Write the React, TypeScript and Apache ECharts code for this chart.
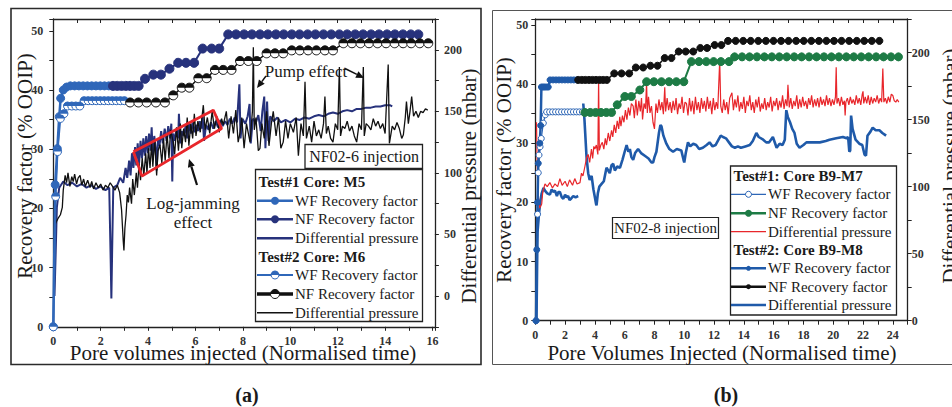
import { useEffect, useRef } from "react";
import * as echarts from "echarts";

const SERIF = "'Liberation Serif', 'DejaVu Serif', serif";

// ---------- Panel (a): NF02-6 injection, Test#1 core M5 / Test#2 core M6 ----------
// x = pore volumes injected, recovery in % OOIP, pressure in mbar
const m5WfRecovery: [number, number][] = [
  [0, 0], [0.08, 24], [0.17, 30.1], [0.25, 35.5], [0.31, 38.6], [0.42, 40.0], [0.56, 40.5],
  [0.72, 40.7], [0.9, 40.7], [1.08, 40.7], [1.26, 40.7], [1.44, 40.7], [1.62, 40.7], [1.8, 40.7],
  [1.98, 40.7], [2.16, 40.7], [2.34, 40.7],
];
const m5NfRecovery: [number, number][] = [
  [2.52, 40.7], [2.7, 40.7], [2.88, 40.7], [3.06, 40.7], [3.24, 40.7], [3.42, 40.7], [3.6, 40.7],
  [3.87, 41.9], [4.22, 42.6], [4.54, 42.6], [4.9, 43.6], [5.27, 44.6], [5.6, 44.6], [5.94, 44.6],
  [6.3, 47.0], [6.68, 47.0], [7.0, 47.0], [7.38, 49.4], [7.71, 49.4], [8.05, 49.4], [8.38, 49.4],
  [8.72, 49.4], [9.05, 49.4], [9.39, 49.4], [9.72, 49.4], [10.06, 49.4], [10.39, 49.4], [10.73, 49.4],
  [11.06, 49.4], [11.4, 49.4], [11.73, 49.4], [12.07, 49.4], [12.4, 49.4], [12.74, 49.4], [13.07, 49.4],
  [13.41, 49.4], [13.74, 49.4], [14.08, 49.4], [14.41, 49.4], [14.75, 49.4], [15.08, 49.4], [15.4, 49.4],
];
const m5Pressure: [number, number][] = [
  [0.05, 0], [0.1, 35], [0.15, 72], [0.25, 88], [0.42, 93], [0.6, 90], [0.8, 92], [1.0, 89], [1.2, 91],
  [1.4, 88], [1.6, 90], [1.8, 87], [2.0, 89], [2.2, 86], [2.36, 88], [2.42, 30], [2.45, -2], [2.49, 45],
  [2.53, 88], [2.7, 90], [2.82, 96], [2.95, 92], [3.05, 104], [3.12, 96], [3.2, 110], [3.26, 98],
  [3.32, 116], [3.38, 104], [3.45, 121], [3.5, 106], [3.56, 124], [3.62, 108], [3.68, 126], [3.74, 112],
  [3.8, 128], [3.86, 114], [3.92, 130], [3.98, 116], [4.04, 132], [4.1, 118], [4.15, 137], [4.2, 112],
  [4.26, 130], [4.32, 120], [4.36, 102], [4.42, 128], [4.48, 122], [4.55, 134], [4.62, 124], [4.7, 136],
  [4.78, 126], [4.85, 138], [4.92, 128], [4.98, 140], [5.02, 93], [5.06, 132], [5.12, 126], [5.2, 136],
  [5.27, 128], [5.3, 148], [5.36, 124], [5.42, 134], [5.5, 130], [5.58, 138], [5.65, 128], [5.72, 140],
  [5.8, 132], [5.88, 141], [5.95, 133], [6.02, 139], [6.1, 134], [6.18, 142], [6.25, 136], [6.3, 146],
  [6.36, 126], [6.45, 139], [6.55, 135], [6.65, 141], [6.75, 136], [6.85, 142], [6.95, 137], [7.05, 143],
  [7.15, 138], [7.25, 142], [7.35, 139], [7.45, 144], [7.55, 140], [7.65, 145], [7.75, 141], [7.85, 172],
  [7.9, 128], [7.98, 144], [8.1, 140], [8.2, 146], [8.28, 156], [8.33, 124], [8.42, 144], [8.55, 141],
  [8.65, 147], [8.75, 134], [8.82, 150], [8.9, 162], [8.95, 120], [9.02, 158], [9.08, 126], [9.15, 146],
  [9.3, 142], [9.45, 145], [9.6, 141], [9.8, 143], [10.0, 141], [10.2, 144], [10.4, 143], [10.6, 145],
  [10.8, 144], [11.0, 146], [11.2, 147], [11.4, 146], [11.6, 148], [11.8, 149], [12.0, 148], [12.2, 150],
  [12.4, 151], [12.6, 150], [12.8, 152], [13.0, 152], [13.2, 153], [13.4, 153], [13.6, 154], [13.8, 154],
  [14.0, 155], [14.2, 155], [14.3, 154],
];
const m6WfRecovery: [number, number][] = [
  [0, 0], [0.1, 22], [0.18, 29.6], [0.3, 35.2], [0.45, 36.0], [0.6, 37.3], [0.78, 37.3], [0.95, 37.3],
  [1.12, 37.3], [1.3, 38.2], [1.47, 38.2], [1.64, 38.2], [1.81, 38.2], [1.98, 38.2], [2.15, 38.2],
  [2.32, 38.2], [2.49, 38.2], [2.66, 38.2], [2.83, 38.2], [3.0, 38.2],
];
const m6NfRecovery: [number, number][] = [
  [3.24, 37.9], [3.59, 37.9], [3.94, 37.9], [4.33, 37.9], [4.71, 37.9], [5.06, 39.1], [5.42, 40.4],
  [5.74, 40.4], [6.12, 42.0], [6.47, 42.0], [6.82, 43.4], [7.17, 43.4], [7.52, 43.4], [7.88, 44.9],
  [8.23, 44.9], [8.58, 44.9], [9.0, 46.2], [9.35, 46.2], [9.7, 46.2], [10.06, 46.7], [10.4, 46.7],
  [10.75, 46.7], [11.1, 46.7], [11.46, 46.7], [11.8, 46.7], [12.24, 47.9], [12.6, 47.9], [12.96, 47.9],
  [13.32, 47.9], [13.68, 47.9], [14.04, 47.9], [14.4, 47.9], [14.76, 47.9], [15.1, 47.9], [15.46, 47.9],
  [15.82, 47.9],
];
const m6Pressure: [number, number][] = [
  [0.05, 57], [0.12, 60], [0.2, 63], [0.3, 66], [0.38, 72], [0.42, 86], [0.5, 98], [0.56, 92], [0.62, 100],
  [0.7, 89], [0.78, 97], [0.84, 93], [0.9, 99], [0.98, 91], [1.05, 96], [1.13, 98], [1.2, 90], [1.28, 95],
  [1.35, 89], [1.45, 94], [1.55, 88], [1.62, 93], [1.7, 87], [1.8, 92], [1.9, 88], [2.0, 91], [2.1, 86],
  [2.2, 90], [2.3, 88], [2.4, 92], [2.5, 89], [2.6, 86], [2.7, 90], [2.8, 84], [2.88, 70], [2.95, 45],
  [2.98, 37], [3.02, 55], [3.07, 66], [3.12, 82], [3.17, 76], [3.22, 88], [3.3, 75], [3.35, 95], [3.42, 82],
  [3.5, 100], [3.55, 88], [3.62, 108], [3.68, 94], [3.75, 112], [3.82, 98], [3.9, 116], [3.95, 100],
  [4.02, 120], [4.08, 104], [4.15, 124], [4.2, 105], [4.28, 127], [4.36, 98], [4.42, 118], [4.5, 123],
  [4.58, 108], [4.65, 128], [4.72, 110], [4.8, 132], [4.88, 112], [4.95, 135], [5.06, 125], [5.12, 115],
  [5.2, 137], [5.28, 118], [5.36, 140], [5.42, 120], [5.5, 136], [5.58, 125], [5.65, 145], [5.72, 122],
  [5.8, 140], [5.88, 128], [5.95, 148], [6.02, 130], [6.1, 142], [6.2, 133], [6.33, 155], [6.4, 135],
  [6.5, 145], [6.6, 132], [6.7, 150], [6.8, 136], [6.9, 146], [7.0, 133], [7.1, 144], [7.17, 139],
  [7.3, 150], [7.4, 128], [7.5, 146], [7.6, 132], [7.7, 151], [7.8, 125], [7.88, 133], [7.95, 145],
  [8.05, 120], [8.15, 140], [8.3, 125], [8.4, 150], [8.44, 202], [8.48, 135], [8.55, 145], [8.65, 118],
  [8.72, 120], [8.8, 140], [8.9, 128], [9.0, 150], [9.1, 122], [9.2, 140], [9.28, 150], [9.4, 130],
  [9.5, 145], [9.6, 120], [9.7, 125], [9.8, 142], [9.9, 128], [10.0, 140], [10.13, 133], [10.25, 145],
  [10.34, 114], [10.45, 140], [10.55, 130], [10.62, 174], [10.68, 128], [10.8, 138], [10.9, 125],
  [11.0, 142], [11.1, 130], [11.2, 135], [11.3, 128], [11.4, 140], [11.46, 162], [11.52, 132], [11.6, 138],
  [11.7, 128], [11.8, 125], [11.9, 140], [12.0, 135], [12.07, 186], [12.12, 130], [12.2, 138], [12.3, 136],
  [12.4, 142], [12.5, 134], [12.6, 138], [12.7, 130], [12.8, 125], [12.9, 140], [13.0, 135], [13.08, 186],
  [13.12, 130], [13.2, 140], [13.3, 138], [13.4, 135], [13.5, 144], [13.6, 138], [13.7, 142], [13.8, 136],
  [13.9, 140], [14.0, 132], [14.13, 188], [14.18, 124], [14.3, 138], [14.4, 135], [14.5, 141], [14.6, 136],
  [14.7, 128], [14.77, 131], [14.85, 145], [14.9, 158], [14.98, 140], [15.05, 150], [15.12, 162],
  [15.2, 146], [15.3, 150], [15.4, 145], [15.5, 150], [15.6, 149], [15.7, 152], [15.8, 151],
];
// corners of the outlined log-jamming zone (PV, % OOIP)
const logJamZone: [number, number][] = [
  [3.38, 29.56], [6.75, 36.6], [7.1, 33.5], [3.74, 25.46], [3.38, 29.56],
];

// ---------- Panel (b): NF02-8 injection, Test#1 core B9-M7 / Test#2 core B9-M8 ----------
const m7WfRecovery: [number, number][] = [
  [0.05, 0], [0.15, 18], [0.2, 25], [0.25, 28], [0.32, 29.4], [0.4, 30.8], [0.54, 33.4], [0.67, 34.8],
  [0.76, 35.3], [0.96, 35.3], [1.16, 35.3], [1.36, 35.3], [1.56, 35.3], [1.76, 35.3], [1.96, 35.3],
  [2.16, 35.3], [2.36, 35.3], [2.56, 35.3], [2.76, 35.3], [2.96, 35.3], [3.16, 35.3],
];
const m7NfRecovery: [number, number][] = [
  [3.33, 35.2], [3.69, 35.2], [4.05, 35.2], [4.41, 35.2], [4.77, 35.2], [5.12, 35.2], [5.5, 36.5],
  [6.01, 37.9], [6.45, 37.9], [7.02, 39.0], [7.47, 40.4], [7.96, 40.4], [8.47, 40.4], [8.98, 40.4],
  [9.47, 40.4], [9.97, 40.4], [10.48, 43.8], [10.99, 43.8], [11.48, 43.8], [11.97, 43.8], [12.46, 43.8],
  [13.0, 43.8], [13.38, 44.6], [13.88, 44.6], [14.38, 44.6], [14.88, 44.6], [15.38, 44.6], [15.88, 44.6],
  [16.38, 44.6], [16.88, 44.6], [17.38, 44.6], [17.88, 44.6], [18.38, 44.6], [18.88, 44.6], [19.38, 44.6],
  [19.88, 44.6], [20.38, 44.6], [20.88, 44.6], [21.38, 44.6], [21.88, 44.6], [22.38, 44.6], [22.88, 44.6],
  [23.38, 44.6], [23.88, 44.6], [24.38, 44.6],
];
const m7Pressure: [number, number][] = [
  [0.08, 148], [0.12, 120], [0.18, 95], [0.25, 88], [0.3, 84], [0.43, 87], [0.5, 96], [0.65, 102],
  [0.8, 100], [0.98, 103], [1.15, 99], [1.32, 102], [1.5, 100], [1.65, 106], [1.8, 101], [2.0, 104],
  [2.15, 100], [2.3, 105], [2.5, 101], [2.65, 106], [2.8, 102], [3.0, 103], [3.1, 110], [3.2, 108],
  [3.33, 115], [3.45, 122], [3.55, 124], [3.65, 118], [3.77, 128], [3.85, 121], [3.93, 130], [4.0, 128],
  [4.1, 131], [4.2, 124], [4.25, 180], [4.3, 127], [4.4, 131], [4.5, 133], [4.6, 128], [4.7, 136],
  [4.78, 131], [4.9, 140], [5.0, 134], [5.12, 142], [5.2, 137], [5.3, 146], [5.4, 140], [5.5, 149],
  [5.6, 143], [5.67, 152], [5.75, 145], [5.85, 153], [5.95, 148], [6.05, 157], [6.15, 150], [6.25, 159],
  [6.35, 153], [6.45, 162], [6.57, 160], [6.65, 151], [6.75, 165], [6.85, 153], [6.95, 164], [7.05, 156],
  [7.13, 166], [7.2, 150], [7.3, 162], [7.4, 158], [7.47, 178], [7.52, 155], [7.6, 167], [7.7, 155],
  [7.8, 160], [7.9, 148], [8.0, 143], [8.1, 162], [8.2, 155], [8.3, 165], [8.4, 157], [8.5, 163],
  [8.6, 154], [8.69, 174], [8.75, 156], [8.85, 166], [8.95, 157], [9.05, 163], [9.15, 155], [9.25, 164],
  [9.35, 157], [9.45, 166], [9.55, 154], [9.65, 162], [9.75, 158], [9.85, 167], [9.95, 155], [10.05, 163],
  [10.15, 162], [10.25, 153], [10.35, 166], [10.45, 156], [10.55, 164], [10.65, 154], [10.75, 167],
  [10.85, 157], [10.95, 163], [11.05, 155], [11.15, 166], [11.25, 158], [11.35, 164], [11.45, 156],
  [11.55, 167], [11.65, 158], [11.75, 164], [11.85, 154], [11.95, 166], [12.05, 157], [12.15, 163],
  [12.25, 158], [12.38, 194], [12.45, 160], [12.55, 155], [12.65, 165], [12.75, 157], [12.85, 163],
  [12.95, 154], [13.05, 166], [13.2, 170], [13.3, 157], [13.4, 165], [13.5, 159], [13.6, 168], [13.7, 156],
  [13.8, 163], [13.9, 158], [14.0, 167], [14.1, 155], [14.2, 164], [14.3, 160], [14.4, 168], [14.5, 157],
  [14.6, 163], [14.7, 155], [14.8, 165], [14.9, 159], [15.0, 167], [15.1, 156], [15.2, 162], [15.3, 158],
  [15.4, 166], [15.5, 157], [15.6, 163], [15.7, 159], [15.8, 167], [15.9, 156], [16.0, 164], [16.1, 160],
  [16.2, 166], [16.3, 157], [16.4, 164], [16.5, 159], [16.6, 168], [16.7, 158], [16.8, 165], [16.9, 160],
  [16.96, 176], [17.05, 159], [17.15, 166], [17.25, 158], [17.35, 164], [17.45, 160], [17.55, 168],
  [17.65, 158], [17.75, 165], [17.85, 159], [17.95, 167], [18.05, 160], [18.15, 164], [18.25, 158],
  [18.35, 166], [18.45, 161], [18.55, 168], [18.65, 159], [18.75, 165], [18.85, 160], [18.95, 166],
  [19.05, 159], [19.15, 167], [19.25, 161], [19.35, 165], [19.45, 160], [19.55, 168], [19.65, 161],
  [19.75, 166], [19.85, 160], [19.95, 165], [20.05, 161], [20.15, 167], [20.2, 189], [20.25, 162],
  [20.35, 166], [20.45, 160], [20.55, 167], [20.65, 161], [20.75, 164], [20.8, 153], [20.85, 163],
  [20.95, 166], [21.05, 161], [21.15, 167], [21.25, 162], [21.35, 165], [21.45, 161], [21.55, 168],
  [21.65, 162], [21.75, 166], [21.85, 161], [21.95, 169], [22.0, 171], [22.05, 162], [22.15, 167],
  [22.25, 162], [22.35, 168], [22.45, 161], [22.55, 167], [22.65, 162], [22.75, 166], [22.85, 163],
  [22.95, 168], [23.05, 162], [23.15, 166], [23.25, 163], [23.33, 188], [23.4, 163], [23.5, 166],
  [23.6, 162], [23.7, 167], [23.8, 163], [23.9, 169], [24.0, 168], [24.1, 164], [24.2, 163], [24.3, 165],
  [24.4, 163],
];
const m8WfRecovery: [number, number][] = [
  [0.05, 0], [0.1, 12], [0.15, 20], [0.2, 26.6], [0.3, 30], [0.36, 33], [0.41, 39.5], [0.52, 39.5],
  [0.63, 39.5], [0.75, 39.5], [0.87, 39.5], [0.99, 40.7], [1.19, 40.7], [1.39, 40.7], [1.59, 40.7],
  [1.79, 40.7], [1.99, 40.7], [2.19, 40.7], [2.39, 40.7], [2.59, 40.7], [2.79, 40.7],
];
const m8NfRecovery: [number, number][] = [
  [2.88, 40.7], [3.12, 40.7], [3.36, 40.7], [3.6, 40.7], [3.84, 40.7], [4.08, 40.7], [4.32, 40.7],
  [4.56, 40.7], [4.8, 40.7], [5.3, 41.8], [5.79, 41.8], [6.3, 41.8], [6.75, 42.8], [7.24, 42.8],
  [7.73, 43.1], [8.2, 43.1], [8.69, 44.4], [9.14, 44.4], [9.63, 45.5], [10.1, 45.5], [10.6, 45.5],
  [11.08, 46.1], [11.53, 46.1], [12.04, 46.6], [12.49, 46.6], [12.94, 47.3], [13.45, 47.3], [13.96, 47.3],
  [14.46, 47.3], [14.97, 47.3], [15.48, 47.3], [15.99, 47.3], [16.5, 47.3], [17.0, 47.3], [17.51, 47.3],
  [18.02, 47.3], [18.53, 47.3], [19.04, 47.3], [19.54, 47.3], [20.05, 47.3], [20.56, 47.3], [21.07, 47.3],
  [21.58, 47.3], [22.08, 47.3], [22.59, 47.3], [23.1, 47.3],
];
const m8PressureWf: [number, number][] = [
  [0.08, 0], [0.12, 40], [0.15, 66], [0.25, 80], [0.35, 90], [0.43, 95], [0.55, 99], [0.65, 97],
  [0.8, 95], [0.98, 94], [1.1, 98], [1.2, 96], [1.32, 97], [1.45, 93], [1.55, 96], [1.65, 96],
  [1.78, 92], [1.88, 91], [2.0, 94], [2.1, 92], [2.2, 93], [2.3, 90], [2.4, 91], [2.55, 93], [2.7, 92],
  [2.88, 93],
];
const m8PressureNf: [number, number][] = [
  [3.22, 162], [3.3, 150], [3.44, 122], [3.55, 110], [3.65, 105], [3.78, 108], [3.9, 98], [4.0, 92],
  [4.08, 87], [4.11, 86], [4.2, 95], [4.3, 100], [4.45, 102], [4.6, 104], [4.78, 114], [4.9, 112],
  [5.0, 110], [5.12, 116], [5.23, 117], [5.34, 112], [5.5, 115], [5.68, 114], [5.85, 120], [6.0, 126],
  [6.13, 131], [6.25, 126], [6.35, 128], [6.45, 122], [6.57, 120], [6.7, 125], [6.9, 128], [7.1, 125],
  [7.35, 123], [7.6, 121], [7.8, 118], [7.91, 118], [8.0, 122], [8.13, 126], [8.3, 140], [8.4, 146],
  [8.47, 145], [8.6, 138], [8.8, 132], [9.0, 128], [9.25, 126], [9.5, 128], [9.8, 127], [9.95, 120],
  [10.0, 118], [10.1, 125], [10.25, 133], [10.4, 130], [10.6, 132], [10.8, 131], [11.0, 128],
  [11.25, 129], [11.5, 131], [11.7, 133], [11.9, 130], [12.1, 131], [12.3, 135], [12.45, 138],
  [12.6, 137], [12.8, 136], [13.0, 133], [13.2, 130], [13.4, 129], [13.6, 130], [13.8, 129], [14.1, 130],
  [14.4, 131], [14.6, 134], [14.84, 140], [15.0, 137], [15.3, 135], [15.5, 133], [15.7, 133],
  [15.95, 137], [16.2, 129], [16.4, 132], [16.6, 131], [16.75, 135], [16.85, 157], [16.95, 152],
  [17.1, 148], [17.25, 143], [17.4, 140], [17.55, 132], [17.74, 129], [18.0, 131], [18.2, 133],
  [18.6, 133], [19.1, 133], [19.5, 134], [19.75, 135], [20.2, 136], [20.65, 137], [20.9, 136], [21.0, 137],
  [21.08, 126], [21.14, 127], [21.2, 153], [21.3, 143], [21.5, 135], [21.75, 132], [21.95, 131],
  [22.1, 124], [22.2, 123], [22.3, 138], [22.5, 141], [22.65, 144], [22.85, 142], [23.1, 142],
  [23.3, 140], [23.55, 138],
];

// axis extents
const xMaxA = 16.1;
const xMaxB = 25;
const recoveryMaxA = 52;
const recoveryMaxB = 51;
const pressureMinA = -25;
const pressureMinB = 0;
const pressureMax = 225;

const BLUE_A = "#2f67b9";
const NAVY = "#27327c";
const BLACK = "#111111";
const RED = "#e8262b";
const GREEN = "#1d7b45";
const BLUE_B = "#1f5aa9";
const BLUE_B_THIN = "#2d66b6";

const isMultiple = (v: number, m: number) => Math.abs(v / m - Math.round(v / m)) < 1e-6;

const axisLineStyle = { color: "#222", width: 1.3 };
const labelStyle = { fontFamily: SERIF, fontSize: 12, fontWeight: "bold" as const, color: "#333" };

function xAxisPair(grid: number, max: number) {
  const base = {
    type: "value" as const,
    gridIndex: grid,
    min: 0,
    max,
    interval: 1,
    splitLine: { show: false },
    axisLine: { show: true, onZero: false, lineStyle: axisLineStyle },
  };
  return [
    {
      ...base,
      position: "bottom",
      axisTick: { show: true, length: 4, lineStyle: { color: "#222", width: 1 } },
      axisLabel: {
        ...labelStyle,
        margin: 8,
        formatter: (v: number) => (isMultiple(v, 2) ? String(Math.round(v)) : ""),
      },
    },
    {
      ...base,
      position: "top",
      axisTick: { show: true, inside: true, length: 4, lineStyle: { color: "#222", width: 1 } },
      axisLabel: { show: false },
    },
  ];
}

function yAxis(grid: number, position: string, min: number, max: number, interval: number, labelEvery: number, margin: number) {
  return {
    type: "value" as const,
    gridIndex: grid,
    position,
    min,
    max,
    interval,
    splitLine: { show: false },
    axisLine: { show: true, onZero: false, lineStyle: axisLineStyle },
    axisTick: { show: true, length: 4, lineStyle: { color: "#222", width: 1 } },
    axisLabel: {
      ...labelStyle,
      margin,
      formatter: (v: number) => (isMultiple(v, labelEvery) && v >= 0 && v <= 200 ? String(Math.round(v)) : ""),
    },
  };
}

function trace(data: [number, number][], xi: number, yi: number, color: string, width: number, z: number) {
  return {
    type: "line",
    data,
    xAxisIndex: xi,
    yAxisIndex: yi,
    symbol: "none",
    showSymbol: false,
    lineStyle: { color, width },
    itemStyle: { color },
    silent: true,
    z,
  };
}

function marked(
  data: [number, number][], xi: number, yi: number, color: string, width: number,
  size: number, fill: string, z: number,
) {
  return {
    type: "line",
    data,
    xAxisIndex: xi,
    yAxisIndex: yi,
    symbol: "circle",
    symbolSize: size,
    showSymbol: true,
    lineStyle: { color, width },
    itemStyle: { color: fill, borderColor: color, borderWidth: 1 },
    silent: true,
    z,
  };
}

// filled upper half on top of each hollow marker
function halfCaps(data: [number, number][], xi: number, yi: number, color: string, size: number, z: number) {
  return {
    type: "custom",
    data,
    xAxisIndex: xi,
    yAxisIndex: yi,
    silent: true,
    z,
    renderItem: (_params: any, api: any) => {
      const p = api.coord([api.value(0), api.value(1)]);
      return {
        type: "sector",
        shape: { cx: p[0], cy: p[1], r0: 0, r: size / 2, startAngle: Math.PI, endAngle: Math.PI * 2, clockwise: true },
        style: { fill: color },
      };
    },
  };
}

function arrow(x1: number, y1: number, x2: number, y2: number, width: number) {
  const a = Math.atan2(y2 - y1, x2 - x1);
  const len = 8;
  const half = 3.6;
  const bx = x2 - len * Math.cos(a);
  const by = y2 - len * Math.sin(a);
  return [
    { type: "line", z: 20, shape: { x1, y1, x2: bx, y2: by }, style: { stroke: BLACK, lineWidth: width } },
    {
      type: "polygon",
      z: 20,
      shape: {
        points: [
          [x2, y2],
          [bx - half * Math.sin(a), by + half * Math.cos(a)],
          [bx + half * Math.sin(a), by - half * Math.cos(a)],
        ],
      },
      style: { fill: BLACK },
    },
  ];
}

function text(x: number, y: number, str: string, size: number, opts: any = {}) {
  return {
    type: "text",
    x,
    y,
    rotation: opts.rotation || 0,
    z: 25,
    style: {
      text: str,
      fontFamily: SERIF,
      fontSize: size,
      fontWeight: opts.bold ? "bold" : "normal",
      fill: opts.color || "#1a1a1a",
      align: opts.align || "center",
      verticalAlign: "middle",
    },
  };
}

type Row = {
  header?: string;
  y: number;
  color?: string;
  width?: number;
  marker?: "dot" | "hollow" | "half" | "none";
  size?: number;
  label?: string;
};

function legendBlock(box: { x: number; y: number; w: number; h: number }, lineX0: number, lineX1: number, textX: number, headerX: number, rows: Row[]) {
  const els: any[] = [
    {
      type: "rect",
      z: 15,
      shape: { x: box.x, y: box.y, width: box.w, height: box.h },
      style: { fill: "#fff", stroke: "#222", lineWidth: 1.3 },
    },
  ];
  const mx = (lineX0 + lineX1) / 2;
  rows.forEach((r) => {
    if (r.header) {
      els.push(text(headerX, r.y, r.header, 15, { bold: true, align: "left" }));
      return;
    }
    els.push({
      type: "line",
      z: 20,
      shape: { x1: lineX0, y1: r.y, x2: lineX1, y2: r.y },
      style: { stroke: r.color, lineWidth: r.width },
    });
    const rad = (r.size || 8) / 2;
    if (r.marker === "dot") {
      els.push({ type: "circle", z: 21, shape: { cx: mx, cy: r.y, r: rad }, style: { fill: r.color } });
    } else if (r.marker === "hollow") {
      els.push({ type: "circle", z: 21, shape: { cx: mx, cy: r.y, r: rad }, style: { fill: "#fff", stroke: r.color, lineWidth: 1 } });
    } else if (r.marker === "half") {
      els.push({ type: "circle", z: 21, shape: { cx: mx, cy: r.y, r: rad }, style: { fill: "#fff", stroke: r.color, lineWidth: 1 } });
      els.push({
        type: "sector",
        z: 22,
        shape: { cx: mx, cy: r.y, r: rad, startAngle: Math.PI, endAngle: Math.PI * 2 },
        style: { fill: r.color },
      });
    }
    els.push(text(textX, r.y, r.label || "", 15, { align: "left" }));
  });
  return els;
}

function buildOption() {
  const graphics: any[] = [
    // panel frames
    { type: "rect", z: 1, shape: { x: 11, y: 8.5, width: 470, height: 356 }, style: { fill: "none", stroke: "#2b2b2b", lineWidth: 1.6 } },
    { type: "rect", z: 1, shape: { x: 492.5, y: 10.5, width: 480, height: 354 }, style: { fill: "none", stroke: "#555", lineWidth: 1 } },
    // axis titles, panel (a)
    text(25, 166, "Recovery factor (% OOIP)", 21, { rotation: Math.PI / 2 }),
    text(243, 353, "Pore volumes injected (Normalised time)", 21),
    text(469, 186, "Differential pressure (mbar)", 21, { rotation: Math.PI / 2 }),
    // axis titles, panel (b)
    text(504, 170, "Recovery factor (% OOIP)", 21, { rotation: Math.PI / 2 }),
    text(722, 353, "Pore Volumes Injected (Normalised time)", 21),
    text(950, 166, "Differential pressure (mbar)", 21, { rotation: Math.PI / 2 }),
    // panel captions
    text(247, 395, "(a)", 20, { bold: true }),
    text(726, 395, "(b)", 20, { bold: true }),
    // annotations, panel (a)
    text(306, 71, "Pump effect", 17),
    ...arrow(266, 76, 257, 88, 1.5),
    ...arrow(345, 68.5, 364, 78, 1.5),
    text(193, 203, "Log-jamming", 17),
    text(193, 222, "effect", 17),
    ...arrow(197, 185, 189, 159, 2.2),
    {
      type: "rect",
      z: 15,
      shape: { x: 305, y: 144.5, width: 117.5, height: 24 },
      style: { fill: "#fff", stroke: "#222", lineWidth: 1.3 },
    },
    text(364, 156.5, "NF02-6 injection", 16),
    // annotation, panel (b)
    {
      type: "rect",
      z: 15,
      shape: { x: 612.5, y: 217.5, width: 106, height: 21 },
      style: { fill: "#fff", stroke: "#222", lineWidth: 1.2 },
    },
    text(665.5, 228, "NF02-8 injection", 15),
    ...legendBlock({ x: 255.5, y: 169.5, w: 167, h: 152 }, 257, 293, 295, 258.5, [
      { header: "Test#1 Core: M5", y: 181.7 },
      { y: 200.7, color: BLUE_A, width: 2.5, marker: "dot", size: 8, label: "WF Recovery factor" },
      { y: 219.3, color: NAVY, width: 2.5, marker: "dot", size: 8, label: "NF Recovery factor" },
      { y: 238.3, color: NAVY, width: 2.5, marker: "none", label: "Differential pressure" },
      { header: "Test#2 Core: M6", y: 256.7 },
      { y: 275, color: BLUE_A, width: 2, marker: "half", size: 8, label: "WF Recovery factor" },
      { y: 294, color: BLACK, width: 3.5, marker: "half", size: 9, label: "NF Recovery factor" },
      { y: 312.7, color: BLACK, width: 1.5, marker: "none", label: "Differential pressure" },
    ]),
    ...legendBlock({ x: 730.5, y: 166, w: 166, h: 149 }, 731, 766, 768, 733.5, [
      { header: "Test#1: Core B9-M7", y: 176 },
      { y: 194.3, color: BLUE_B_THIN, width: 1.2, marker: "hollow", size: 6, label: "WF Recovery factor" },
      { y: 213.3, color: GREEN, width: 2.5, marker: "dot", size: 7, label: "NF Recovery factor" },
      { y: 231.7, color: RED, width: 1.2, marker: "none", label: "Differential pressure" },
      { header: "Test#2: Core B9-M8", y: 250 },
      { y: 268.3, color: BLUE_B, width: 2.5, marker: "dot", size: 5, label: "WF Recovery factor" },
      { y: 286.7, color: BLACK, width: 2.5, marker: "dot", size: 5, label: "NF Recovery factor" },
      { y: 305, color: BLUE_B, width: 2.5, marker: "none", label: "Differential pressure" },
    ]),
  ];

  return {
    animation: false,
    backgroundColor: "#fff",
    textStyle: { fontFamily: SERIF },
    grid: [
      { left: 53.3, top: 19, width: 381.6, height: 307.8 },
      { left: 535.3, top: 19, width: 372.4, height: 301.7 },
    ],
    xAxis: [...xAxisPair(0, xMaxA), ...xAxisPair(1, xMaxB)],
    yAxis: [
      yAxis(0, "left", 0, recoveryMaxA, 5, 10, 10),
      yAxis(0, "right", pressureMinA, pressureMax, 25, 50, 9),
      yAxis(1, "left", 0, recoveryMaxB, 5, 10, 7),
      yAxis(1, "right", pressureMinB, pressureMax, 25, 50, 4),
    ],
    series: [
      // (a) pressure traces
      trace(m5Pressure, 0, 1, NAVY, 2, 2),
      trace(m6Pressure, 0, 1, BLACK, 1.3, 3),
      trace(logJamZone, 0, 0, RED, 2.8, 4),
      // (a) recovery factors
      marked(m5WfRecovery, 0, 0, BLUE_A, 2.5, 8, BLUE_A, 6),
      marked(m5NfRecovery, 0, 0, NAVY, 2, 9, NAVY, 6),
      marked(m6WfRecovery, 0, 0, BLUE_A, 1.8, 8, "#fff", 7),
      halfCaps(m6WfRecovery, 0, 0, BLUE_A, 8, 8),
      marked(m6NfRecovery, 0, 0, BLACK, 1.5, 9, "#fff", 7),
      halfCaps(m6NfRecovery, 0, 0, BLACK, 9, 8),
      // (b) pressure traces
      trace(m8PressureWf, 2, 3, BLUE_B, 2.6, 2),
      trace(m8PressureNf, 2, 3, BLUE_B, 2.6, 2),
      trace(m7Pressure, 2, 3, RED, 1.2, 3),
      // (b) recovery factors
      marked(m7WfRecovery, 2, 2, BLUE_B_THIN, 1.2, 6, "#fff", 6),
      marked(m8WfRecovery, 2, 2, BLUE_B, 2.5, 6, BLUE_B, 6),
      marked(m7NfRecovery, 2, 2, GREEN, 2, 8, GREEN, 6),
      marked(m8NfRecovery, 2, 2, BLACK, 1.5, 7, BLACK, 7),
    ],
    graphic: { elements: graphics },
  };
}

export default function App() {
  const ref = useRef<HTMLDivElement>(null);
  useEffect(() => {
    if (!ref.current) return;
    const chart = echarts.init(ref.current, undefined, { renderer: "svg" });
    chart.setOption(buildOption() as any);
    return () => chart.dispose();
  }, []);
  return (
    <div
      ref={ref}
      style={{ position: "absolute", left: 0, top: 0, width: 952, height: 407, background: "#fff" }}
    />
  );
}
